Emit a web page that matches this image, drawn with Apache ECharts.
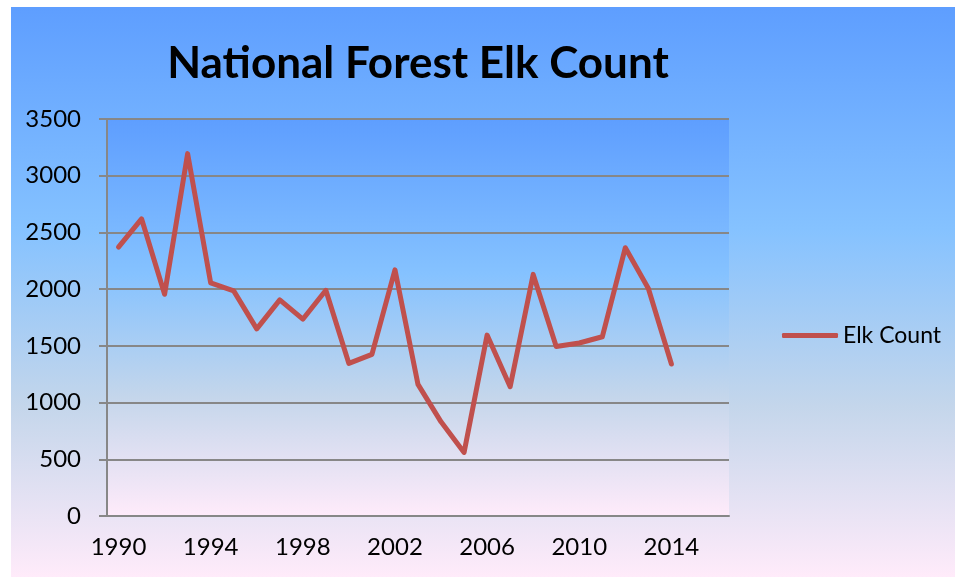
<!DOCTYPE html>
<html>
<head>
<meta charset="utf-8">
<script src="https://cdn.jsdelivr.net/npm/echarts@6/dist/echarts.min.js"></script>
<style>
  * { margin: 0; padding: 0; }
  body { background: #fff; width: 955px; height: 577px; position: relative; overflow: hidden; }
  #main {
    position: absolute; left: 11px; top: 7px; width: 944px; height: 570px;
    background: linear-gradient(to bottom, #5E9EFF 0%, #85C2FF 39%, #C4D6EB 70%, #FFEBFA 100%);
  }
</style>
</head>
<body>
<!-- chart area, the outer gradient is the css background -->
<div id="main"></div>
<script>
  var years = [];
  for (var y = 1990; y <= 2016; y++) years.push(String(y));   // 27 categories, last two empty
  var elkCount = [2370, 2620, 1955, 3195, 2055, 1985, 1650, 1905, 1735, 1990,
                  1345, 1425, 2170, 1160, 830, 560, 1595, 1140, 2130, 1495,
                  1525, 1580, 2365, 2005, 1340];
  var yTicks = { min: 0, max: 3500, step: 500 };

  var daybreak = [
    { offset: 0, color: '#5E9EFF' },
    { offset: 0.39, color: '#85C2FF' },
    { offset: 0.70, color: '#C4D6EB' },
    { offset: 1, color: '#FFEBFA' }
  ];

  var mycharts = echarts.init(document.getElementById('main'));
  var option = {
    animation: false,
    textStyle: { fontFamily: 'Lato' },
    graphic: [{
      type: 'text',
      x: 407,
      y: 57,
      style: {
        text: 'National Forest Elk Count',
        fontFamily: 'Lato',
        fontWeight: 'bold',
        fontSize: 44,
        fill: '#000',
        textAlign: 'center',
        textVerticalAlign: 'middle'
      }
    }],
    legend: {
      data: ['Elk Count'],
      left: 771,
      top: 317,
      padding: 0,
      icon: 'roundRect',
      itemWidth: 56,
      itemHeight: 5,
      textStyle: { fontFamily: 'Lato', fontSize: 23, color: '#000' }
    },
    grid: {
      left: 96,
      right: 226,
      top: 112,
      bottom: 61,
      show: true,
      borderWidth: 0,
      backgroundColor: { type: 'linear', x: 0, y: 0, x2: 0, y2: 1, colorStops: daybreak }
    },
    xAxis: {
      type: 'category',
      data: years,
      boundaryGap: true,
      axisLine: { lineStyle: { color: '#878787', width: 2 } },
      axisTick: { interval: 3, length: 8, lineStyle: { color: '#878787', width: 2 } },
      axisLabel: { interval: 3, margin: 19, fontFamily: 'Lato', fontSize: 24, color: '#000' },
      splitLine: { show: false }
    },
    yAxis: {
      type: 'value',
      min: yTicks.min,
      max: yTicks.max,
      interval: yTicks.step,
      axisLine: { show: true, lineStyle: { color: '#878787', width: 2 } },
      axisTick: { show: true, length: 8, lineStyle: { color: '#878787', width: 2 } },
      axisLabel: {
        margin: 26, fontFamily: 'Lato', fontSize: 24, color: '#000',
        formatter: function (v) { return String(v); }
      },
      splitLine: { lineStyle: { color: '#878787', width: 2 } }
    },
    series: [{
      name: 'Elk Count',
      type: 'line',
      data: elkCount,
      symbol: 'none',
      itemStyle: { color: '#C0504D' },
      lineStyle: { color: '#C0504D', width: 5, join: 'round', cap: 'round' }
    }]
  };
  mycharts.clear();
  mycharts.setOption(option);
</script>
</body>
</html>
